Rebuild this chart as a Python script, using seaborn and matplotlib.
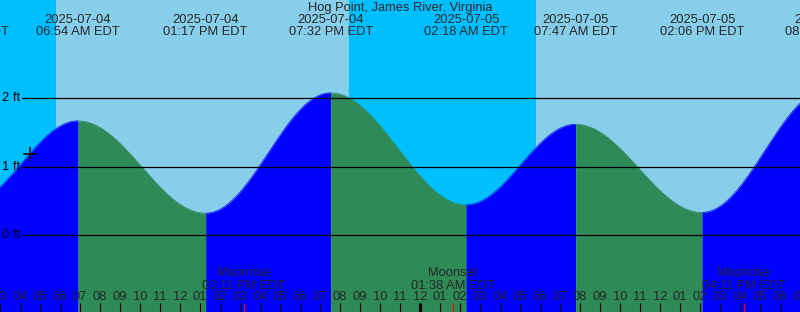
import numpy as np
import pandas as pd
import matplotlib
matplotlib.use("Agg")
import matplotlib.pyplot as plt
import seaborn as sns

# ---------------- data ----------------
title = "Hog Point, James River, Virginia"
# tide extremes, hours counted from 2025-07-04 00:00 EDT
tide_hours = [1.333, 6.9, 13.283, 19.533, 26.3, 31.783, 38.1, 44.367]
tide_heights = [0.45, 1.67, 0.32, 2.08, 0.44, 1.62, 0.33, 2.13]
tide_dates = ["2025-07-04", "2025-07-04", "2025-07-04", "2025-07-04",
              "2025-07-05", "2025-07-05", "2025-07-05", "2025-07-05"]
tide_times = ["01:20 AM EDT", "06:54 AM EDT", "01:17 PM EDT", "07:32 PM EDT",
              "02:18 AM EDT", "07:47 AM EDT", "02:06 PM EDT", "08:22 PM EDT"]
sun_hours = [5.8, 20.45, 29.8]          # sunrise, sunset, sunrise
moon_hours = [15.183, 25.633, 40.183]
moon_events = ["Moonrise", "Moonset", "Moonrise"]
moon_times = ["03:11 PM EDT", "01:38 AM EDT", "04:11 PM EDT"]
level_values = [0, 1, 2]
level_labels = ["0 ft", "1 ft", "2 ft"]
now_hour = 4.5
start_hour, end_hour = 3, 43

# ---------------- style ----------------
sns.set_style("white")
plt.rcParams["font.family"] = ["Liberation Sans", "DejaVu Sans"]
FS = 9.3
NIGHT = "#00BFFF"
DAY = "#87CEEB"
RISE = "#0000FF"
FALL = "#2E8B57"

W, H = 800, 312
ZERO_PX = 235.0
PX_PER_FT = 68.35


def py(ypx):
    """pixel row (from top) -> data value in ft"""
    return (ZERO_PX - ypx) / PX_PER_FT


fig = plt.figure(figsize=(W / 100, H / 100), dpi=100)
ax = fig.add_axes([0, 0, 1, 1])
ax.set_xlim(start_hour, end_hour)
ax.set_ylim(py(H), py(0))
ax.axis("off")

# background day / night
bounds = [start_hour] + sun_hours + [end_hour]
for i in range(len(bounds) - 1):
    ax.axvspan(bounds[i], bounds[i + 1], color=NIGHT if i % 2 == 0 else DAY,
               lw=0, zorder=0, antialiased=False)

# tide curve between extremes (rising = blue, falling = green)
for i in range(len(tide_hours) - 1):
    t0, t1 = tide_hours[i], tide_hours[i + 1]
    h0, h1 = tide_heights[i], tide_heights[i + 1]
    t = np.linspace(t0, t1, 200)
    h = h0 + (h1 - h0) * (1 - np.cos(np.pi * (t - t0) / (t1 - t0))) / 2
    seg = pd.DataFrame({"t": t, "h": h})
    col = RISE if h1 > h0 else FALL
    ax.fill_between(seg["t"], seg["h"], py(H + 5), color=col, lw=0, zorder=1,
                    antialiased=False)
    sns.lineplot(data=seg, x="t", y="h", color=col, lw=0.5, ax=ax, zorder=1.5)

# current time marker
ni = np.searchsorted(tide_hours, now_hour)
t0, t1 = tide_hours[ni - 1], tide_hours[ni]
h0, h1 = tide_heights[ni - 1], tide_heights[ni]
now_h = h0 + (h1 - h0) * (1 - np.cos(np.pi * (now_hour - t0) / (t1 - t0))) / 2
ax.plot([now_hour], [now_h], marker="+", color="black", ms=10, mew=1.1, zorder=5)

# level lines and labels
for v, lab in zip(level_values, level_labels):
    ax.axhline(v, xmin=22 / W, xmax=1, color="black", lw=0.9, zorder=3)
    ax.text(start_hour + 2 / 20, v, lab, ha="left", va="center", fontsize=FS,
            color="black", zorder=4)

# title
tr = ax.get_xaxis_transform()
ax.text((start_hour + end_hour) / 2, 1 - 8 / H, title, ha="center", va="center",
        fontsize=FS, transform=tr, zorder=4)

# tide event labels
for th, d, tm in zip(tide_hours, tide_dates, tide_times):
    ax.text(th, 1 - 20 / H, d, ha="center", va="center", fontsize=FS,
            transform=tr, zorder=4, clip_on=False)
    ax.text(th, 1 - 32 / H, tm, ha="center", va="center", fontsize=FS,
            transform=tr, zorder=4, clip_on=False)

# hour labels and ticks
for hr in range(start_hour, end_hour + 1):
    lab = f"{(hr % 12) or 12:02d}"
    ax.text(hr, 1 - 297 / H, lab, ha="center", va="center", fontsize=FS,
            transform=tr, zorder=4)
    lw = 2.2 if hr % 24 == 0 else 0.8
    ax.vlines(hr, py(303), py(H + 2), color="black", lw=lw, zorder=4)

# moon events
for mh, ev, mt in zip(moon_hours, moon_events, moon_times):
    ax.vlines(mh, py(303), py(H + 2), color="red", lw=0.8, zorder=4)
    ax.text(mh, 1 - 273 / H, ev, ha="center", va="center", fontsize=FS,
            transform=tr, zorder=4)
    ax.text(mh, 1 - 286 / H, mt, ha="center", va="center", fontsize=FS,
            transform=tr, zorder=4)

fig.savefig("out.png", dpi=100)
